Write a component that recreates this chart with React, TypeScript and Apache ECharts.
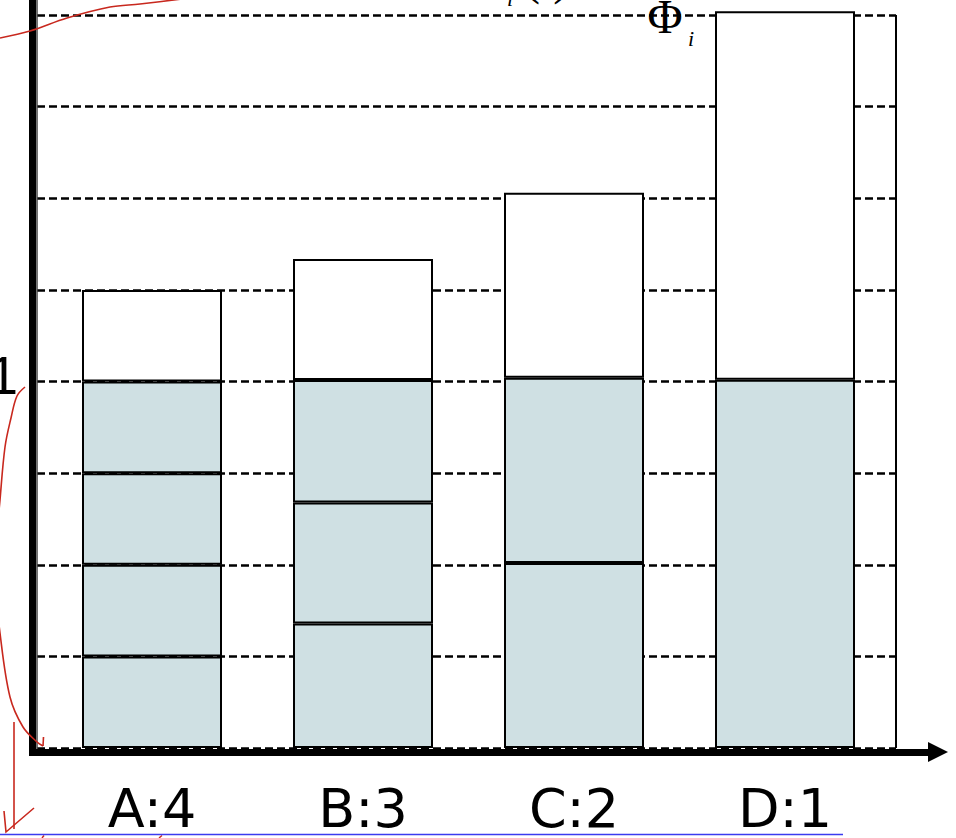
import React, { useEffect, useRef } from 'react';
import * as echarts from 'echarts';

// Categories (class:weight) and stacked layer values (share units, "1" = full)
const categories = ['A:4', 'B:3', 'C:2', 'D:1'];
const layer1 = [0.25, 0.34, 0.505, 1.005];
const layer2 = [0.25, 0.33, 0.505, null];
const layer3 = [0.25, 0.334, null, null];
const layer4 = [0.25, null, null, null];
const headroom = [0.25, 0.33, 0.505, 1.005];
const yMin = 0;
const yMax = 2;
const yStep = 0.25;
const yTickLabels: Record<string, string> = { '1': '1' };

const BLUE = '#cfe0e3';
const RED = '#c8281e';

export default function App() {
  const ref = useRef<HTMLDivElement>(null);
  useEffect(() => {
    if (!ref.current) return;
    const chart = echarts.init(ref.current, null, { renderer: 'svg' });
    const barStyle = (fill: string) => ({ color: fill, borderColor: '#000', borderWidth: 2 });
    const layers = [layer1, layer2, layer3, layer4];
    const series: any[] = layers.map((d, i) => ({
      name: 'part' + (i + 1),
      type: 'bar',
      stack: 'total',
      xAxisIndex: 1,
      yAxisIndex: 2,
      barWidth: 140,
      clip: false,
      data: d,
      itemStyle: barStyle(BLUE),
    }));
    series.push({
      name: 'rest',
      type: 'bar',
      stack: 'total',
      xAxisIndex: 1,
      yAxisIndex: 2,
      barWidth: 140,
      clip: false,
      data: headroom,
      itemStyle: barStyle('#ffffff'),
    });

    const hidden = { axisLabel: { show: false }, axisTick: { show: false }, splitLine: { show: false } };
    const g = { containLabel: false, outerBoundsMode: 'none' };

    chart.setOption({
      animation: false,
      backgroundColor: '#ffffff',
      grid: [
        { ...g, left: 37, right: 60, top: 15, bottom: 90 },
        { ...g, left: 46.5, right: 65.5, top: 15, bottom: 90 },
        { ...g, left: 37, right: 60, top: -100, bottom: 82 },
        { ...g, left: 29.5, right: 18, top: 15, bottom: 86 },
      ],
      xAxis: [
        { gridIndex: 0, type: 'value', show: false },
        {
          gridIndex: 1,
          type: 'category',
          data: categories,
          axisLine: { show: false },
          axisTick: { show: false },
          splitLine: { show: false },
          axisLabel: {
            margin: 33,
            fontSize: 54,
            fontFamily: 'DejaVu Sans',
            color: '#000',
          },
        },
        { gridIndex: 2, type: 'value', show: false },
        {
          gridIndex: 3,
          type: 'value',
          min: 0,
          max: 1,
          axisLine: {
            show: true,
            onZero: false,
            symbol: ['none', 'triangle'],
            symbolSize: [20, 20],
            lineStyle: { color: '#000', width: 7, cap: 'butt' },
          },
          ...hidden,
        },
      ],
      yAxis: [
        {
          gridIndex: 0,
          type: 'value',
          position: 'left',
          min: yMin,
          max: yMax,
          interval: yStep,
          axisLine: { show: false },
          axisTick: { show: false },
          splitLine: { show: true, lineStyle: { color: '#000', width: 2.5, type: [8, 4] } },
          axisLabel: {
            show: true,
            margin: 19,
            fontSize: 54,
            fontFamily: 'Liberation Sans',
            color: '#000',
            verticalAlign: 'bottom',
            lineHeight: 14,
            formatter: (v: number) => yTickLabels[String(v)] ?? '',
          },
        },
        {
          gridIndex: 0,
          type: 'value',
          position: 'right',
          min: yMin,
          max: yMax,
          axisLine: { show: true, onZero: false, lineStyle: { color: '#000', width: 2, cap: 'butt' } },
          ...hidden,
        },
        { gridIndex: 1, type: 'value', min: yMin, max: yMax, show: false },
        {
          gridIndex: 2,
          type: 'value',
          position: 'left',
          offset: 4.5,
          axisLine: { show: true, onZero: false, lineStyle: { color: '#000', width: 7, cap: 'butt' } },
          ...hidden,
        },
        {
          gridIndex: 2,
          type: 'value',
          position: 'left',
          offset: 0,
          axisLine: { show: true, onZero: false, lineStyle: { color: '#444', width: 1.5, cap: 'butt' } },
          ...hidden,
        },
        { gridIndex: 3, type: 'value', show: false },
      ],
      series,
      graphic: [
        // partially visible heading text at the top
        {
          type: 'text', x: 665, y: 16, z: 10,
          style: { text: 'Φ', fontSize: 48, fontFamily: 'Liberation Serif', fill: '#000', align: 'center', verticalAlign: 'middle' },
        },
        {
          type: 'text', x: 691, y: 38.5, z: 10,
          style: { text: 'i', fontSize: 22, fontStyle: 'italic', fontFamily: 'Liberation Serif', fill: '#000', align: 'center', verticalAlign: 'middle' },
        },
        {
          type: 'text', x: 510, y: -1.5, z: 10,
          style: { text: 'i', fontSize: 22, fontStyle: 'italic', fontFamily: 'Liberation Serif', fill: '#000', align: 'center', verticalAlign: 'middle' },
        },
        {
          type: 'text', x: 524, y: -23, z: 10,
          style: { text: '(t)', fontSize: 48, fontFamily: 'Liberation Serif', fill: '#000', align: 'left', verticalAlign: 'middle' },
        },
        // handwritten red annotations
        {
          type: 'polyline', z: 20,
          shape: { points: [[0, 38], [30, 31], [67, 18], [110, 7], [140, 4], [190, -2]], smooth: 0.35 },
          style: { stroke: RED, lineWidth: 1.6, fill: 'none' },
        },
        {
          type: 'polyline', z: 20,
          shape: {
            points: [[25, 387], [17, 396], [11, 418], [5, 447], [0, 500], [-6, 570], [0, 633], [10, 697], [23, 727], [37, 742], [43, 746]],
            smooth: 0.35,
          },
          style: { stroke: RED, lineWidth: 1.6, fill: 'none' },
        },
        {
          type: 'line', z: 20,
          shape: { x1: 43, y1: 746, x2: 43.5, y2: 737 },
          style: { stroke: RED, lineWidth: 1.6 },
        },
        {
          type: 'line', z: 20,
          shape: { x1: 14, y1: 722, x2: 14, y2: 829 },
          style: { stroke: RED, lineWidth: 1.6 },
        },
        {
          type: 'polyline', z: 20,
          shape: { points: [[4, 811], [6, 832], [34, 808]] },
          style: { stroke: RED, lineWidth: 1.6, fill: 'none' },
        },
        {
          type: 'line', z: 20,
          shape: { x1: 42, y1: 838, x2: 44, y2: 835.5 },
          style: { stroke: RED, lineWidth: 1.4 },
        },
        {
          type: 'line', z: 20,
          shape: { x1: 159, y1: 838, x2: 162, y2: 835.5 },
          style: { stroke: RED, lineWidth: 1.4 },
        },
        // blue ruled line at the bottom
        {
          type: 'line', z: 20,
          shape: { x1: 0, y1: 834.5, x2: 843, y2: 834.5 },
          style: { stroke: '#3b3bf0', lineWidth: 1.5 },
        },
      ],
    });
    return () => chart.dispose();
  }, []);
  return <div ref={ref} style={{ position: 'fixed', left: 0, top: 0, width: 956, height: 838 }} />;
}
